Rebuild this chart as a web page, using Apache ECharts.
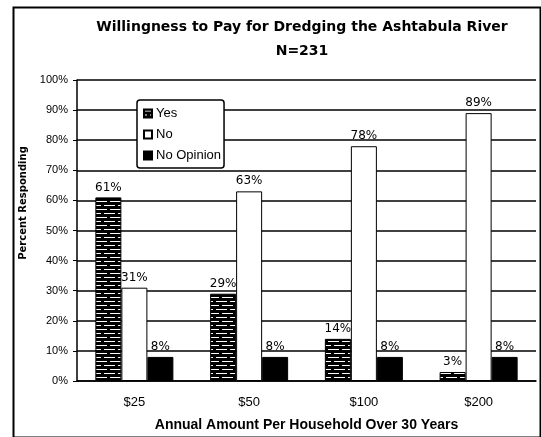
<!DOCTYPE html>
<html lang="en" style="height: 100%">
<head>
  <meta charset="utf-8">
</head>
<body style="height: 100%; margin: 0">
  <div id="container" style="width: 541px; height: 437px"></div>

  <script type="text/javascript" src="https://cdn.jsdelivr.net/npm/echarts@6/dist/echarts.min.js"></script>

  <script type="text/javascript">
    var categories = ['$25', '$50', '$100', '$200'];
    var yesValues = [61, 29, 14, 3];
    var noValues = [31, 63, 78, 89];
    var noOpinionValues = [8, 8, 8, 8];
    var yTicks = [0, 10, 20, 30, 40, 50, 60, 70, 80, 90, 100];

    var dom = document.getElementById('container');
    var myChart = echarts.init(dom, null, { renderer: 'canvas' });

    // horizontal stripe fill for the "Yes" bars
    var stripe = document.createElement('canvas');
    stripe.width = 14;
    stripe.height = 8;
    var ctx = stripe.getContext('2d');
    ctx.fillStyle = '#000';
    ctx.fillRect(0, 0, 14, 8);
    ctx.fillStyle = '#fff';
    ctx.fillRect(0, 1, 9, 1);
    ctx.fillRect(12, 1, 2, 1);
    ctx.fillRect(0, 5, 3, 1);
    ctx.fillRect(6, 5, 8, 1);

    var font = 'Liberation Sans, Arial, sans-serif';
    var labelOpt = {
      show: true,
      position: 'top',
      formatter: '{c}%',
      color: '#000',
      fontFamily: 'DejaVu Sans, sans-serif',
      fontSize: 12,
      distance: 4
    };

    var option = {
      backgroundColor: '#fff',
      animation: false,
      title: {
        text: 'Willingness to Pay for Dredging the Ashtabula River\nN=231',
        left: 297,
        top: 10,
        textAlign: 'center',
        textStyle: {
          fontFamily: 'DejaVu Sans, sans-serif',
          fontWeight: 'bold',
          fontSize: 14,
          lineHeight: 24,
          color: '#000'
        }
      },
      legend: {
        orient: 'vertical',
        left: 137,
        top: 100,
        padding: [7, 3, 6, 6],
        borderColor: '#000',
        borderWidth: 1.5,
        borderRadius: 3,
        backgroundColor: '#fff',
        itemWidth: 8,
        itemHeight: 8,
        itemGap: 8,
        icon: 'rect',
        textStyle: { fontFamily: font, fontSize: 13, color: '#000', padding: [0, 0, 0, -1] },
        data: ['Yes', 'No', 'No Opinion']
      },
      graphic: [
        {
          type: 'rect',
          left: 11,
          top: 5,
          shape: { width: 527, height: 430 },
          style: { fill: 'none', stroke: '#000', lineWidth: 2 },
          silent: true
        },
        {
          type: 'text',
          x: 23,
          y: 203,
          rotation: Math.PI / 2,
          style: {
            text: 'Percent Responding',
            font: 'bold 10px DejaVu Sans, sans-serif',
            fill: '#000',
            align: 'center',
            verticalAlign: 'middle'
          }
        }
      ],
      grid: {
        left: 77,
        right: 5,
        top: 80,
        bottom: 56,
        containLabel: false,
        outerBoundsMode: 'none'
      },
      xAxis: {
        type: 'category',
        data: categories,
        name: 'Annual Amount Per Household Over 30 Years',
        nameLocation: 'middle',
        nameGap: 37,
        nameTextStyle: { fontFamily: font, fontWeight: 'bold', fontSize: 14, color: '#000' },
        axisLine: { lineStyle: { color: '#000', width: 1.5 } },
        axisTick: { show: false },
        axisLabel: { fontFamily: font, fontSize: 13, color: '#000', margin: 15 }
      },
      yAxis: {
        type: 'value',
        min: yTicks[0],
        max: yTicks[yTicks.length - 1],
        interval: 10,
        axisLine: { show: true, lineStyle: { color: '#000', width: 1.5 } },
        axisTick: { show: true, length: 4, lineStyle: { color: '#000' } },
        axisLabel: {
          fontFamily: font,
          fontSize: 11,
          color: '#000',
          margin: 9,
          formatter: '{value}%'
        },
        splitLine: { lineStyle: { color: '#000', width: 1.5 } }
      },
      series: [
        {
          name: 'Yes',
          type: 'bar',
          data: yesValues,
          barGap: '0%',
          barCategoryGap: '32%',
          itemStyle: {
            color: { image: stripe, repeat: 'repeat' },
            borderColor: '#000',
            borderWidth: 1
          },
          label: labelOpt
        },
        {
          name: 'No',
          type: 'bar',
          data: noValues,
          itemStyle: { color: '#fff', borderColor: '#000', borderWidth: 1 },
          label: labelOpt
        },
        {
          name: 'No Opinion',
          type: 'bar',
          data: noOpinionValues,
          itemStyle: { color: '#000', borderColor: '#000', borderWidth: 1 },
          label: labelOpt
        }
      ]
    };

    myChart.setOption(option);
    window.addEventListener('resize', myChart.resize);
  </script>
</body>
</html>
